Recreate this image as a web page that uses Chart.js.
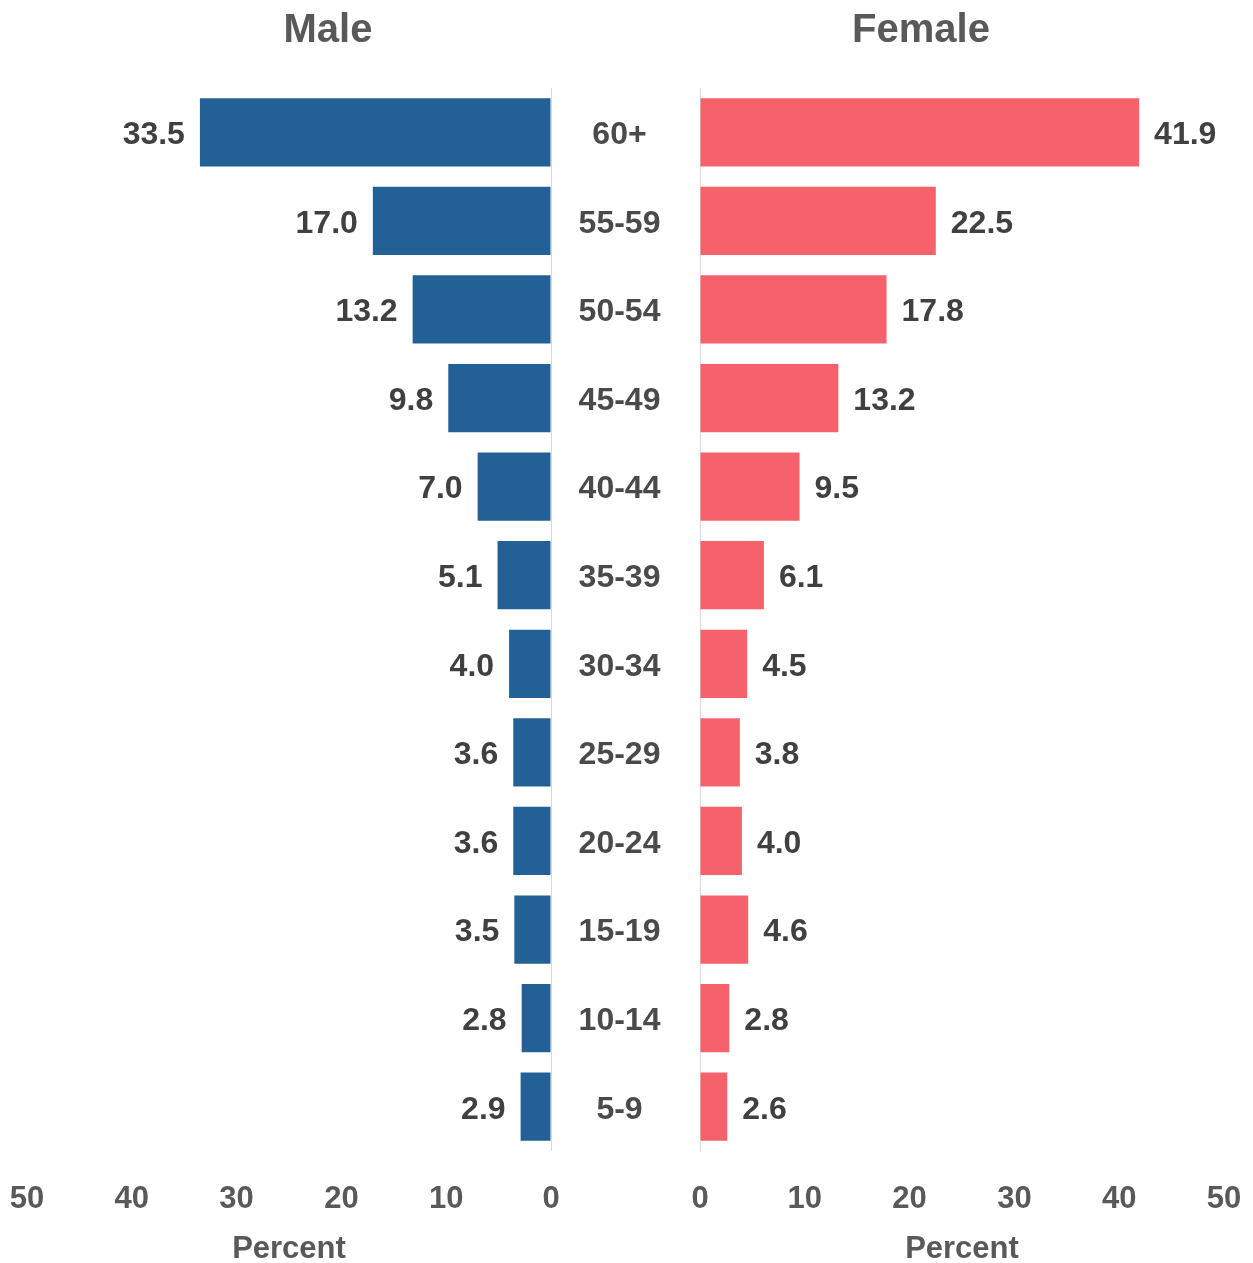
<!DOCTYPE html>
<html>
<head>
<meta charset="utf-8">
<script src="https://cdn.jsdelivr.net/npm/chart.js@4/dist/chart.umd.min.js"></script>
<style>
  html, body { margin: 0; padding: 0; background: #ffffff; }
  #wrap { position: relative; width: 1253px; height: 1263px; overflow: hidden; }
  canvas { position: absolute; top: 0; }
  .ttl { position: absolute; top: 3px; font-family: "Liberation Sans", sans-serif; font-weight: bold; font-size: 40px; color: #595959; line-height: 50px; transform: translateX(-50%); white-space: nowrap; }
</style>
</head>
<body>
<div id="wrap">
  <canvas id="male" width="600" height="1263" style="left:0px;width:600px;height:1263px"></canvas>
  <canvas id="female" width="702" height="1263" style="left:551px;width:702px;height:1263px"></canvas>
  <div class="ttl" style="left:328px">Male</div>
  <div class="ttl" style="left:921px">Female</div>
</div>
<script>
const ageGroups = ["60+", "55-59", "50-54", "45-49", "40-44", "35-39", "30-34", "25-29", "20-24", "15-19", "10-14", "5-9"];
const maleValues = [33.5, 17.0, 13.2, 9.8, 7.0, 5.1, 4.0, 3.6, 3.6, 3.5, 2.8, 2.9];
const femaleValues = [41.9, 22.5, 17.8, 13.2, 9.5, 6.1, 4.5, 3.8, 4.0, 4.6, 2.8, 2.6];
const axisTicks = [0, 10, 20, 30, 40, 50];
const axisTitle = "Percent";

const FONT = '"Liberation Sans", sans-serif';
const MALE_COLOR = '#226096';
const FEMALE_COLOR = '#F6626B';

const valueLabels = {
  id: 'valueLabels',
  afterDatasetsDraw(chart, args, opts) {
    const ctx = chart.ctx;
    const meta = chart.getDatasetMeta(0);
    const data = chart.data.datasets[0].data;
    ctx.save();
    ctx.font = 'bold 32px ' + FONT;
    ctx.fillStyle = '#404040';
    ctx.textBaseline = 'middle';
    meta.data.forEach((bar, i) => {
      const txt = data[i].toFixed(1);
      if (opts.side === 'left') {
        ctx.textAlign = 'right';
        ctx.fillText(txt, bar.x - 15, bar.y + 3);
      } else {
        ctx.textAlign = 'left';
        ctx.fillText(txt, bar.x + 15, bar.y + 3);
      }
    });
    // category labels centred in the gap (the y axis box of the female chart)
    if (opts.categories) {
      const ys = chart.scales.y;
      ctx.font = 'bold 32px ' + FONT;
      ctx.fillStyle = '#4a4a4a';
      ctx.textAlign = 'center';
      const cx = (ys.left + ys.right) / 2 - 6;
      chart.data.labels.forEach((lab, i) => {
        ctx.fillText(lab, cx, ys.getPixelForValue(i) + 3);
      });
    }
    ctx.restore();
  }
};

function xScale(reverse, zeroLine) {
  return {
    type: 'linear',
    min: 0,
    max: 50,
    reverse: reverse,
    afterBuildTicks(scale) { scale.ticks = axisTicks.map(v => ({ value: v })); },
    afterFit(scale) { scale.height = 112; scale.paddingLeft = 0; scale.paddingRight = 0; },
    grid: {
      display: true,
      drawTicks: false,
      color: (c) => (zeroLine && c.tick && c.tick.value === 0) ? '#d9d9d9' : 'rgba(0,0,0,0)',
      lineWidth: 1
    },
    border: { display: false },
    ticks: {
      padding: 30,
      color: '#595959',
      font: { family: FONT, size: 31, weight: 'bold', lineHeight: 1.2 }
    },
    title: {
      display: true,
      text: axisTitle,
      color: '#595959',
      padding: { top: 0, bottom: 0 },
      font: { family: FONT, size: 31, weight: 'bold', lineHeight: 0.9 }
    }
  };
}

new Chart(document.getElementById('male'), {
  type: 'bar',
  data: {
    labels: ageGroups,
    datasets: [{ data: maleValues, backgroundColor: MALE_COLOR, barPercentage: 0.77, categoryPercentage: 1.0 }]
  },
  options: {
    indexAxis: 'y',
    responsive: false,
    animation: false,
    layout: { padding: { left: 27, right: 49, top: 88, bottom: 0 } },
    plugins: { legend: { display: false }, tooltip: { enabled: false }, valueLabels: { side: 'left', categories: false } },
    scales: {
      x: xScale(true, true),
      y: { display: false }
    }
  },
  plugins: [valueLabels]
});

new Chart(document.getElementById('female'), {
  type: 'bar',
  data: {
    labels: ageGroups,
    datasets: [{ data: femaleValues, backgroundColor: FEMALE_COLOR, barPercentage: 0.77, categoryPercentage: 1.0 }]
  },
  options: {
    indexAxis: 'y',
    responsive: false,
    animation: false,
    layout: { padding: { left: 0, right: 29, top: 88, bottom: 0 } },
    plugins: { legend: { display: false }, tooltip: { enabled: false }, valueLabels: { side: 'right', categories: true } },
    scales: {
      x: xScale(false, false),
      y: {
        position: 'left',
        afterFit(scale) { scale.width = 149; },
        grid: { display: false, drawTicks: false },
        border: { display: true, color: '#d9d9d9', width: 1 },
        ticks: { display: false }
      }
    }
  },
  plugins: [valueLabels]
});
</script>
</body>
</html>
